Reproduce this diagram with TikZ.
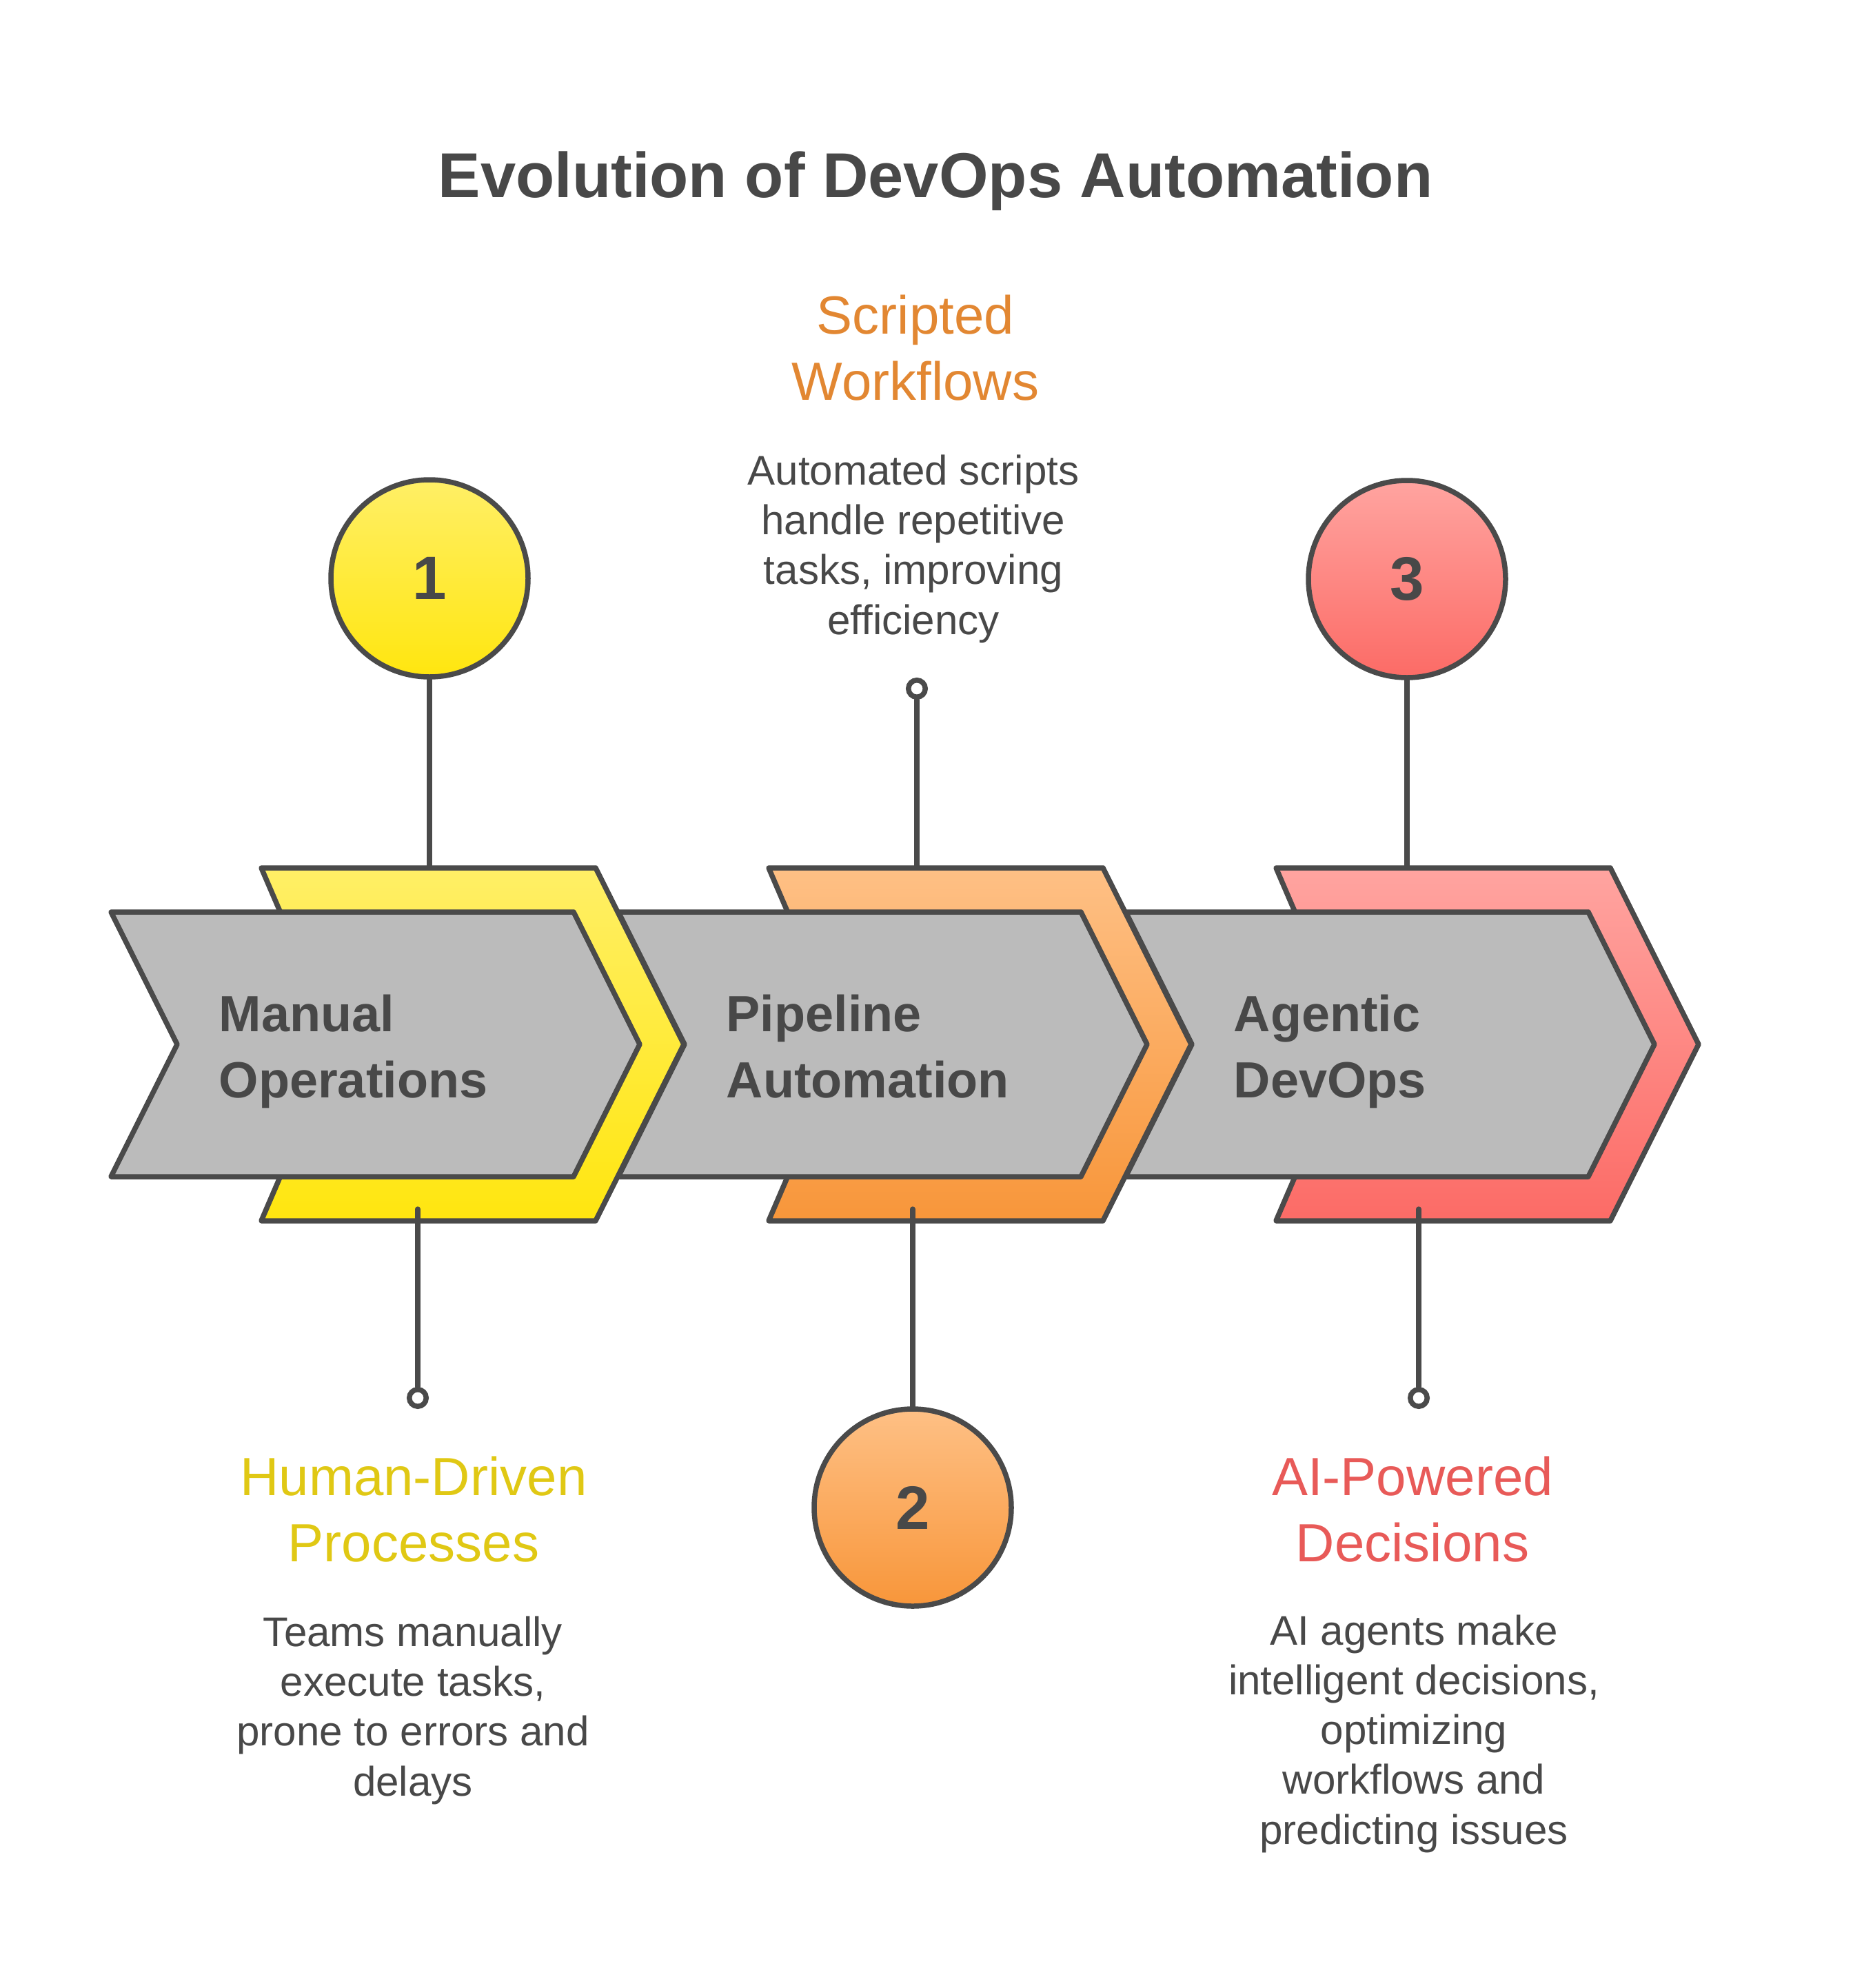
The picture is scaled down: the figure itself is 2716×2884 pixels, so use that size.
\documentclass[tikz,border=0pt]{standalone}
\usepackage{fontspec}
\setmainfont{Liberation Sans}
\definecolor{linec}{HTML}{4A4A4A}
\definecolor{txtc}{HTML}{484848}
\definecolor{grayfill}{HTML}{BBBBBB}
\definecolor{yelA}{HTML}{FFEF66}
\definecolor{yelB}{HTML}{FFE60F}
\definecolor{orgA}{HTML}{FEC085}
\definecolor{orgB}{HTML}{F8963A}
\definecolor{redA}{HTML}{FFA4A0}
\definecolor{redB}{HTML}{FC6B66}
\definecolor{yelT}{HTML}{E0C814}
\definecolor{orgT}{HTML}{E28732}
\definecolor{redT}{HTML}{E85A58}
\tikzset{
  chev/.style     = {draw=linec, line width=0.75mm, line join=round},
  stem/.style     = {draw=linec, line width=0.75mm, line cap=round},
  stepnum/.style  = {circle, draw=linec, line width=0.75mm, minimum size=28.6mm,
                     inner sep=0pt, text=txtc,
                     font=\bfseries\fontsize{25.3}{25.3}\selectfont},
  pin/.style      = {circle, draw=linec, fill=white, line width=0.75mm,
                     minimum size=2.45mm, inner sep=0pt},
  chevtext/.style = {anchor=base west, align=left, inner sep=0pt, text=txtc,
                     font=\bfseries\fontsize{21}{27.3}\selectfont},
  heading/.style  = {anchor=base, align=center, inner sep=0pt,
                     font=\fontsize{22.2}{27.3}\selectfont},
  body/.style     = {anchor=base, align=center, inner sep=0pt, text=txtc,
                     font=\fontsize{17.1}{20.5}\selectfont},
}

\begin{document}
\begin{tikzpicture}[x=0.1mm, y=-0.1mm]
  \useasboundingbox (0,0) rectangle (2716,2884);

  % --- title ---------------------------------------------------------------
  \node[anchor=base, inner sep=0pt, text=txtc,
        font=\bfseries\fontsize{26.2}{26.2}\selectfont] (title) at (1357,287)
    {Evolution of DevOps Automation};

  % --- chevrons, back to front ---------------------------------------------
  \foreach \i/\ca/\cb in {2/redA/redB, 1/orgA/orgB, 0/yelA/yelB} {
    \begin{scope}[shift={(\i*736,0)}]
      \draw[chev, top color=\ca, bottom color=\cb]
        (379,1259) -- (864,1259) -- (992,1515) -- (864,1771)
        -- (379,1771) -- (489,1515) -- cycle;
      \draw[chev, fill=grayfill]
        (161,1323) -- (832,1323) -- (928,1515) -- (832,1707)
        -- (161,1707) -- (257,1515) -- cycle;
    \end{scope}
  }

  % (base of a multi-line node = its last line)
  \node[chevtext] (g1) at (317,1592) {Manual\\Operations};
  \node[chevtext] (g2) at (1053,1592) {Pipeline\\Automation};
  \node[chevtext] (g3) at (1789,1592) {Agentic\\DevOps};

  % --- step circles and pins -------------------------------------------------
  \node[stepnum, top color=yelA, bottom color=yelB] (n1) at (623,839) {1};
  \node[stepnum, top color=orgA, bottom color=orgB] (n2) at (1324,2187) {2};
  \node[stepnum, top color=redA, bottom color=redB] (n3) at (2041,840) {3};

  \node[pin] (p1) at (606,2028) {};
  \node[pin] (p2) at (1330,999) {};
  \node[pin] (p3) at (2058,2028) {};

  \coordinate (b1top) at (623,1259);
  \coordinate (b2top) at (1330,1259);
  \coordinate (b3top) at (2041,1259);
  \coordinate (b1bot) at (606,1754);
  \coordinate (b2bot) at (1324,1754);
  \coordinate (b3bot) at (2058,1754);

  \draw[stem] (n1) -- (b1top);
  \draw[stem] (p2) -- (b2top);
  \draw[stem] (n3) -- (b3top);
  \draw[stem] (b1bot) -- (p1);
  \draw[stem] (b2bot) -- (n2);
  \draw[stem] (b3bot) -- (p3);

  % --- descriptions --------------------------------------------------------
  \node[heading, text=yelT] (h1) at (600,2265) {Human-Driven\\Processes};
  \node[body] (d1) at (599,2605)
    {Teams manually\\execute tasks,\\prone to errors and\\delays};

  \node[heading, text=orgT] (h2) at (1328,580) {Scripted\\Workflows};
  \node[body] (d2) at (1325,920)
    {Automated scripts\\handle repetitive\\tasks, improving\\efficiency};

  \node[heading, text=redT] (h3) at (2049,2265) {AI-Powered\\Decisions};
  \node[body] (d3) at (2051,2675)
    {AI agents make\\intelligent decisions,\\optimizing\\workflows and\\predicting issues};

\end{tikzpicture}
\end{document}
